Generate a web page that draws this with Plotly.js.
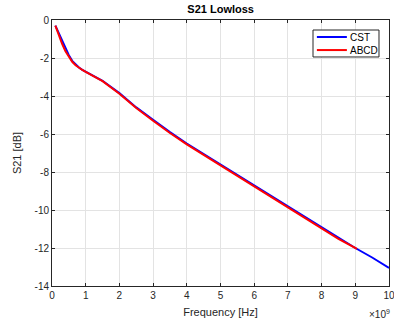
<!DOCTYPE html>
<html>
<head>
<meta charset="utf-8">
<script src="https://cdn.plot.ly/plotly-3.0.1.min.js"></script>
<style>html,body{margin:0;padding:0;background:#fff;}#chart{width:394px;height:325px;}</style>
</head>
<body>
<div id="chart"></div>
<script>
// Frequency in units of 1e9 Hz
const freqCST = [0.1,0.2,0.3,0.4,0.5,0.6,0.7,0.8,0.9,1.0,1.5,2.0,2.5,3.0,3.5,4.0,4.5,5.0,5.5,6.0,6.5,7.0,7.5,8.0,8.5,9.0,9.5,10.0];
const s21CST  = [-0.3,-0.7,-1.1,-1.5,-1.85,-2.15,-2.35,-2.5,-2.62,-2.72,-3.2,-3.85,-4.6,-5.25,-5.9,-6.5,-7.05,-7.6,-8.15,-8.68,-9.22,-9.8,-10.35,-10.9,-11.45,-12.0,-12.5,-13.05];
const freqABCD = [0.1,0.2,0.3,0.4,0.5,0.6,0.7,0.8,0.9,1.0,1.5,2.0,2.5,3.0,3.5,4.0,4.5,5.0,5.5,6.0,6.5,7.0,7.5,8.0,8.5,9.05];
const s21ABCD  = [-0.3,-0.8,-1.25,-1.65,-1.95,-2.2,-2.38,-2.52,-2.63,-2.73,-3.22,-3.88,-4.63,-5.3,-5.95,-6.55,-7.1,-7.65,-8.2,-8.73,-9.28,-9.87,-10.42,-10.97,-11.52,-12.05];
const xTicks = [0,1,2,3,4,5,6,7,8,9,10];
const yTicks = [-14,-12,-10,-8,-6,-4,-2,0];
const seriesNames = ['CST', 'ABCD'];
const seriesColors = ['#0000ff', '#ff0000'];

const FONT = 'Liberation Sans, Arial, sans-serif';
const axCommon = {
  showline: true, linecolor: '#262626', linewidth: 1, mirror: 'ticks',
  ticks: 'inside', ticklen: 3, tickcolor: '#262626',
  showgrid: true, gridcolor: '#e3e3e3', gridwidth: 1,
  zeroline: false, ticklabeloverflow: 'allow',
  tickfont: {family: FONT, size: 10, color: '#262626'}
};

const traces = [
  {x: freqCST, y: s21CST, name: seriesNames[0], mode: 'lines', line: {color: seriesColors[0], width: 2}},
  {x: freqABCD, y: s21ABCD, name: seriesNames[1], mode: 'lines', line: {color: seriesColors[1], width: 2}}
];

// compact MATLAB-style legend box (paper coordinates)
const legX0 = 0.7745, legX1 = 0.9703, legY0 = 0.861, legY1 = 0.9624;
const legRowY = [0.936, 0.887];
const shapes = [{type: 'rect', xref: 'paper', yref: 'paper', x0: legX0, x1: legX1, y0: legY0, y1: legY1,
  line: {color: '#262626', width: 1}, fillcolor: '#ffffff', layer: 'above'}];
const annotations = [];
seriesNames.forEach((n, i) => {
  shapes.push({type: 'line', xref: 'paper', yref: 'paper', x0: 0.786, x1: 0.875, y0: legRowY[i], y1: legRowY[i],
    line: {color: seriesColors[i], width: 2}, layer: 'above'});
  annotations.push({text: n, xref: 'paper', yref: 'paper', x: 0.879, y: legRowY[i], xanchor: 'left', yanchor: 'middle',
    showarrow: false, font: {family: FONT, size: 10, color: '#000'}});
});
annotations.push({
  text: '×10<sup>9</sup>', xref: 'paper', yref: 'paper', x: 1.009, y: -0.075, xanchor: 'right', yanchor: 'top',
  showarrow: false, font: {family: FONT, size: 10, color: '#262626'}
});

const layout = {
  width: 394, height: 325,
  paper_bgcolor: '#ffffff', plot_bgcolor: '#ffffff',
  margin: {l: 52, r: 5, t: 20, b: 39},
  title: {text: '<b>S21 Lowloss</b>', font: {family: FONT, size: 11, color: '#000'}, x: 0.56, xanchor: 'center', y: 0.985, yanchor: 'top'},
  xaxis: Object.assign({}, axCommon, {
    range: [0, 10], tickvals: xTicks, ticktext: xTicks.map(String),
    title: {text: 'Frequency [Hz]', font: {family: FONT, size: 11, color: '#262626'}, standoff: 8}
  }),
  yaxis: Object.assign({}, axCommon, {
    range: [-14, 0], tickvals: yTicks, ticktext: yTicks.map(String),
    title: {text: 'S21 [dB]', font: {family: FONT, size: 11, color: '#262626'}, standoff: 10}
  }),
  showlegend: false,
  shapes: shapes,
  annotations: annotations
};

Plotly.newPlot('chart', traces, layout, {displayModeBar: false, staticPlot: true});
</script>
</body>
</html>
